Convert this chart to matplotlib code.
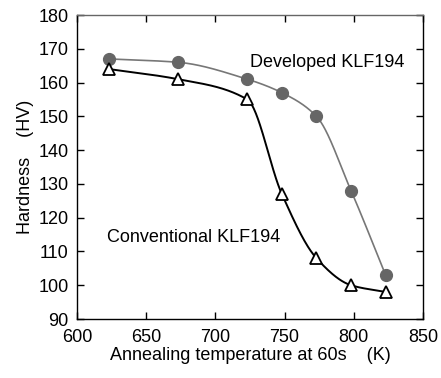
import numpy as np
import matplotlib
matplotlib.use("Agg")
import matplotlib.pyplot as plt

plt.rcParams["font.family"] = ["Liberation Sans", "DejaVu Sans"]

temperature = [623, 673, 723, 748, 773, 798, 823]
developed = [167, 166, 161, 157, 150, 128, 103]
conventional = [164, 161, 155, 127, 108, 100, 98]


def pchip(x, y, xs):
    # monotone cubic interpolation used only to draw the smooth guide line
    x = np.asarray(x, float)
    y = np.asarray(y, float)
    h = np.diff(x)
    d = np.diff(y) / h
    m = np.zeros_like(y)
    for k in range(1, len(x) - 1):
        if d[k - 1] * d[k] > 0:
            w1 = 2 * h[k] + h[k - 1]
            w2 = h[k] + 2 * h[k - 1]
            m[k] = (w1 + w2) / (w1 / d[k - 1] + w2 / d[k])
    m[0] = d[0]
    m[-1] = d[-1]
    out = np.empty_like(xs)
    for i, xv in enumerate(xs):
        k = min(np.searchsorted(x, xv, side="right") - 1, len(x) - 2)
        t = (xv - x[k]) / h[k]
        h00 = 2 * t**3 - 3 * t**2 + 1
        h10 = t**3 - 2 * t**2 + t
        h01 = -2 * t**3 + 3 * t**2
        h11 = t**3 - t**2
        out[i] = h00 * y[k] + h10 * h[k] * m[k] + h01 * y[k + 1] + h11 * h[k] * m[k + 1]
    return out


fig = plt.figure(figsize=(4.41, 3.78), dpi=100)
ax = fig.add_axes([77 / 441, 1 - 319 / 378, 346 / 441, 304 / 378])

xs = np.linspace(temperature[0], temperature[-1], 400)
ax.plot(xs, pchip(temperature, developed, xs), color="#777777", lw=1.2, zorder=2)
ax.plot(xs, pchip(temperature, conventional, xs), color="black", lw=1.4, zorder=2)
ax.plot(temperature, developed, "o", color="#666666", ms=8.5, zorder=3)
ax.plot(temperature, conventional, "^", mfc="white", mec="black", mew=1.3,
        ms=8, zorder=4)

ax.text(725, 166, "Developed KLF194", fontsize=13, va="center", ha="left")
ax.text(621.5, 114, "Conventional KLF194", fontsize=13, va="center", ha="left")

ax.set_xlim(600, 850)
ax.set_ylim(90, 180)
ax.set_xticks(range(600, 851, 50))
ax.set_yticks(range(90, 181, 10))
ax.tick_params(direction="in", top=True, right=True, labelsize=13,
               length=5, width=1)
ax.tick_params(axis="x", pad=7)
ax.tick_params(axis="y", pad=6)
for s in ax.spines.values():
    s.set_linewidth(1)
ax.spines["top"].set_color("#666666")
ax.set_xlabel("Annealing temperature at 60s    (K)", fontsize=13, labelpad=1)
ax.set_ylabel("Hardness    (HV)", fontsize=13, labelpad=3)

fig.savefig("out.png", dpi=100)
